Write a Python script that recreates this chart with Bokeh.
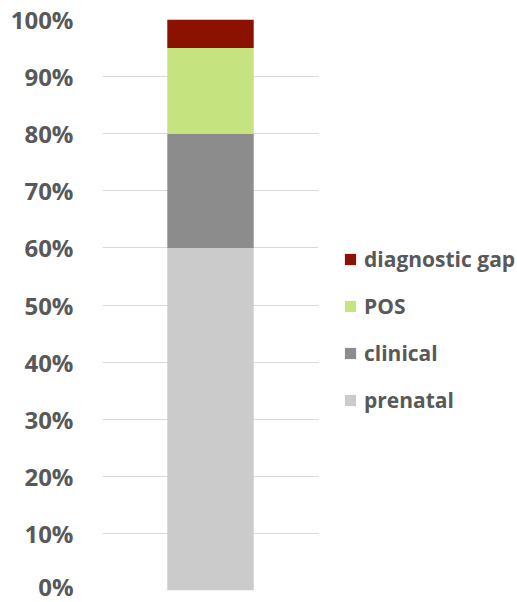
from bokeh.plotting import figure
from bokeh.models import Legend, LegendItem, NumeralTickFormatter, FixedTicker, Range1d, FactorRange
from bokeh.embed import file_html
from bokeh.resources import INLINE

categories = ["all"]
series = ["prenatal", "clinical", "POS", "diagnostic gap"]
prenatal = [0.60]
clinical = [0.20]
pos = [0.15]
diagnostic_gap = [0.05]
colors = ["#cbcbcb", "#8c8c8c", "#c5e480", "#8b1100"]
y_ticks = [0, 0.1, 0.2, 0.3, 0.4, 0.5, 0.6, 0.7, 0.8, 0.9, 1.0]

data = {"cat": categories, "prenatal": prenatal, "clinical": clinical,
        "POS": pos, "diagnostic gap": diagnostic_gap}

p = figure(x_range=FactorRange(*categories), y_range=Range1d(0, 1),
           frame_width=216, frame_height=571,
           min_border_left=102, min_border_top=19, min_border_bottom=12, min_border_right=0,
           output_backend="svg", toolbar_location=None)

rs = p.vbar_stack(series, x="cat", width=0.4, color=colors, source=data, line_color=None)

p.xaxis.visible = False
p.xgrid.visible = False
p.ygrid.grid_line_color = "#d9d9d9"
p.ygrid.grid_line_width = 1
p.outline_line_color = None

ax = p.yaxis[0]
ax.ticker = FixedTicker(ticks=y_ticks)
ax.formatter = NumeralTickFormatter(format="0%")
ax.axis_line_color = None
ax.major_tick_line_color = None
ax.minor_tick_line_color = None
ax.major_label_text_font = "Open Sans"
ax.major_label_text_font_style = "bold"
ax.major_label_text_font_size = "24px"
ax.major_label_text_color = "#595959"
ax.major_label_standoff = 23

items = [LegendItem(label=s, renderers=[r]) for s, r in zip(series, rs)][::-1]
legend = Legend(items=items, location=(25, 176))
legend.border_line_color = None
legend.background_fill_alpha = 0
legend.margin = 0
legend.padding = 0
legend.glyph_width = 14
legend.glyph_height = 14
legend.label_height = 24
legend.spacing = 19
legend.label_standoff = 7
legend.label_text_font = "Open Sans"
legend.label_text_font_style = "bold"
legend.label_text_font_size = "21px"
legend.label_text_color = "#595959"
p.add_layout(legend, "right")

open("out.html", "w").write(file_html(p, INLINE))
